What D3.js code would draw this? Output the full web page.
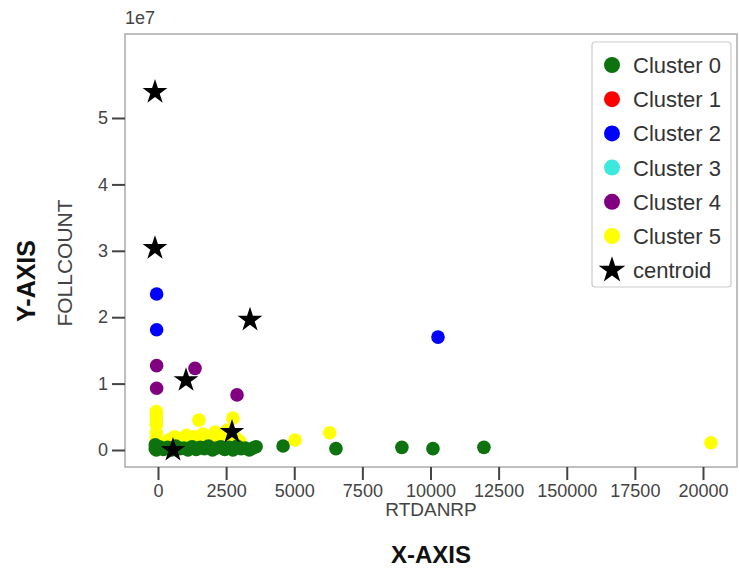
<!DOCTYPE html>
<html>
<head>
<meta charset="utf-8">
<script src="https://cdn.jsdelivr.net/npm/d3@7"></script>
<style>
  body { margin: 0; background: #fff; }
  text { font-family: "Liberation Sans", Arial, sans-serif; }
</style>
</head>
<body>
<svg id="chart" width="739" height="573"></svg>
<script>
// values, y in units of 1e7
const clusterNames = ["Cluster 0", "Cluster 1", "Cluster 2", "Cluster 3", "Cluster 4", "Cluster 5"];
const clusterColors = ["#0e730e", "#ff0000", "#0000ff", "#3de8df", "#800080", "#ffff00"];

const cluster0X = [-100, -100, -60, 50, 200, 350, 500, 650, 800, 950, 1100, 1250, 1400, 1550, 1700, 1850, 2000, 2150, 2300, 2450, 2600, 2750, 2900, 3050, 3200, 3350, 3490, 3600, 4590, 6530, 8950, 10090, 11960];
const cluster0Y = [0.02, 0.08, 0.0, 0.05, 0.01, 0.04, 0.0, 0.06, 0.02, 0.03, 0.0, 0.05, 0.01, 0.04, 0.02, 0.06, 0.0, 0.03, 0.05, 0.01, 0.04, 0.0, 0.06, 0.02, 0.03, 0.0, 0.03, 0.05, 0.06, 0.02, 0.04, 0.02, 0.04];
const cluster1X = [];
const cluster1Y = [];
const cluster2X = [-50, -50, 10275];
const cluster2Y = [2.35, 1.81, 1.70];
const cluster3X = [];
const cluster3Y = [];
const cluster4X = [-50, -50, 1358, 2900];
const cluster4Y = [1.27, 0.93, 1.23, 0.83];
const cluster5X = [-60, -60, -60, -60, -60, -60, -60, 400, 600, 750, 900, 1050, 1200, 1350, 1500, 1650, 1800, 1950, 2100, 2250, 2400, 2550, 2700, 2850, 3000, 1500, 2750, 5030, 6300, 20290];
const cluster5Y = [0.58, 0.52, 0.45, 0.38, 0.25, 0.18, 0.14, 0.15, 0.2, 0.13, 0.18, 0.22, 0.14, 0.2, 0.16, 0.24, 0.13, 0.19, 0.27, 0.15, 0.22, 0.3, 0.14, 0.18, 0.13, 0.45, 0.48, 0.15, 0.26, 0.11];

const centroidX = [-110, -110, 3376, 1028, 2716, 550];
const centroidY = [5.39, 3.04, 1.96, 1.05, 0.27, 0.0];

const xTicks = [0, 2500, 5000, 7500, 10000, 12500, 15000, 17500, 20000];
const xTickLabels = ["0", "2500", "5000", "7500", "10000", "12500", "150000", "17500", "20000"];
const yTicks = [0, 1, 2, 3, 4, 5];

const clusterX = [cluster0X, cluster1X, cluster2X, cluster3X, cluster4X, cluster5X];
const clusterY = [cluster0Y, cluster1Y, cluster2Y, cluster3Y, cluster4Y, cluster5Y];

const svg = d3.select("#chart");
const plotL = 125, plotR = 737, plotT = 34, plotB = 467;

// x(0)=158, x(20000)=703 ; y(0)=450, y(5)=118
const x = d3.scaleLinear().domain([-1211, 21248]).range([plotL, plotR]);
const y = d3.scaleLinear().domain([-0.256, 6.265]).range([plotB, plotT]);

// points: yellow first so the green band stays on top like the picture
const drawOrder = [5, 4, 3, 2, 1, 0];
const pts = svg.append("g");
drawOrder.forEach(c => {
  pts.selectAll(null)
    .data(d3.zip(clusterX[c], clusterY[c]))
    .join("circle")
      .attr("cx", d => x(d[0]))
      .attr("cy", d => y(d[1]))
      .attr("r", 6.8)
      .attr("fill", clusterColors[c]);
});

const star = d3.symbol().type(d3.symbolStar).size(190);
svg.append("g")
  .selectAll("path")
  .data(d3.zip(centroidX, centroidY))
  .join("path")
    .attr("d", star)
    .attr("transform", d => `translate(${x(d[0])},${y(d[1])})`)
    .attr("fill", "#000");

// frame
svg.append("rect")
  .attr("x", plotL).attr("y", plotT)
  .attr("width", plotR - plotL).attr("height", plotB - plotT)
  .attr("fill", "none").attr("stroke", "#aaa").attr("stroke-width", 1.5);

const xAxis = svg.append("g")
  .attr("transform", `translate(0,${plotB})`)
  .call(d3.axisBottom(x).tickValues(xTicks).tickFormat((d, i) => xTickLabels[i]).tickSize(13).tickPadding(4));
const yAxis = svg.append("g")
  .attr("transform", `translate(${plotL},0)`)
  .call(d3.axisLeft(y).tickValues(yTicks).tickFormat(d3.format("d")).tickSize(13).tickPadding(4));

[xAxis, yAxis].forEach(a => {
  a.select(".domain").remove();
  a.selectAll(".tick line").attr("stroke", "#444").attr("stroke-width", 2);
  a.selectAll(".tick text").attr("fill", "#444").style("font-size", "18px")
    .style("font-family", "'Liberation Sans', Arial, sans-serif");
});

svg.append("text").attr("x", plotL).attr("y", 24)
  .attr("fill", "#444").style("font-size", "18px").text("1e7");

svg.append("text")
  .attr("x", (plotL + plotR) / 2).attr("y", 516)
  .attr("text-anchor", "middle").attr("fill", "#444")
  .style("font-size", "19px").text("RTDANRP");

svg.append("text")
  .attr("transform", "translate(72,263) rotate(-90)")
  .attr("text-anchor", "middle").attr("fill", "#444")
  .style("font-size", "21px").text("FOLLCOUNT");

svg.append("text")
  .attr("x", (plotL + plotR) / 2).attr("y", 563)
  .attr("text-anchor", "middle").attr("fill", "#111")
  .style("font-size", "24px").style("font-weight", "bold").text("X-AXIS");

svg.append("text")
  .attr("transform", "translate(35,281) rotate(-90)")
  .attr("text-anchor", "middle").attr("fill", "#111")
  .style("font-size", "25px").style("font-weight", "bold").text("Y-AXIS");

// legend
const legendNames = clusterNames.concat(["centroid"]);
const legend = svg.append("g");
legend.append("rect")
  .attr("x", 592).attr("y", 42).attr("width", 139).attr("height", 245)
  .attr("rx", 3).attr("fill", "#fff").attr("stroke", "#ccc").attr("stroke-width", 1.2);

const rows = legend.selectAll("g.row")
  .data(legendNames)
  .join("g")
    .attr("class", "row")
    .attr("transform", (d, i) => `translate(612,${65 + i * 34.2})`);

rows.filter((d, i) => i < clusterNames.length)
  .append("circle").attr("r", 8).attr("fill", (d, i) => clusterColors[i]);
rows.filter(d => d === "centroid")
  .append("path").attr("d", d3.symbol().type(d3.symbolStar).size(220)).attr("fill", "#000");

rows.append("text")
  .attr("x", 21).attr("dy", "0.36em")
  .attr("fill", "#333").style("font-size", "22px")
  .text(d => d);
</script>
</body>
</html>
